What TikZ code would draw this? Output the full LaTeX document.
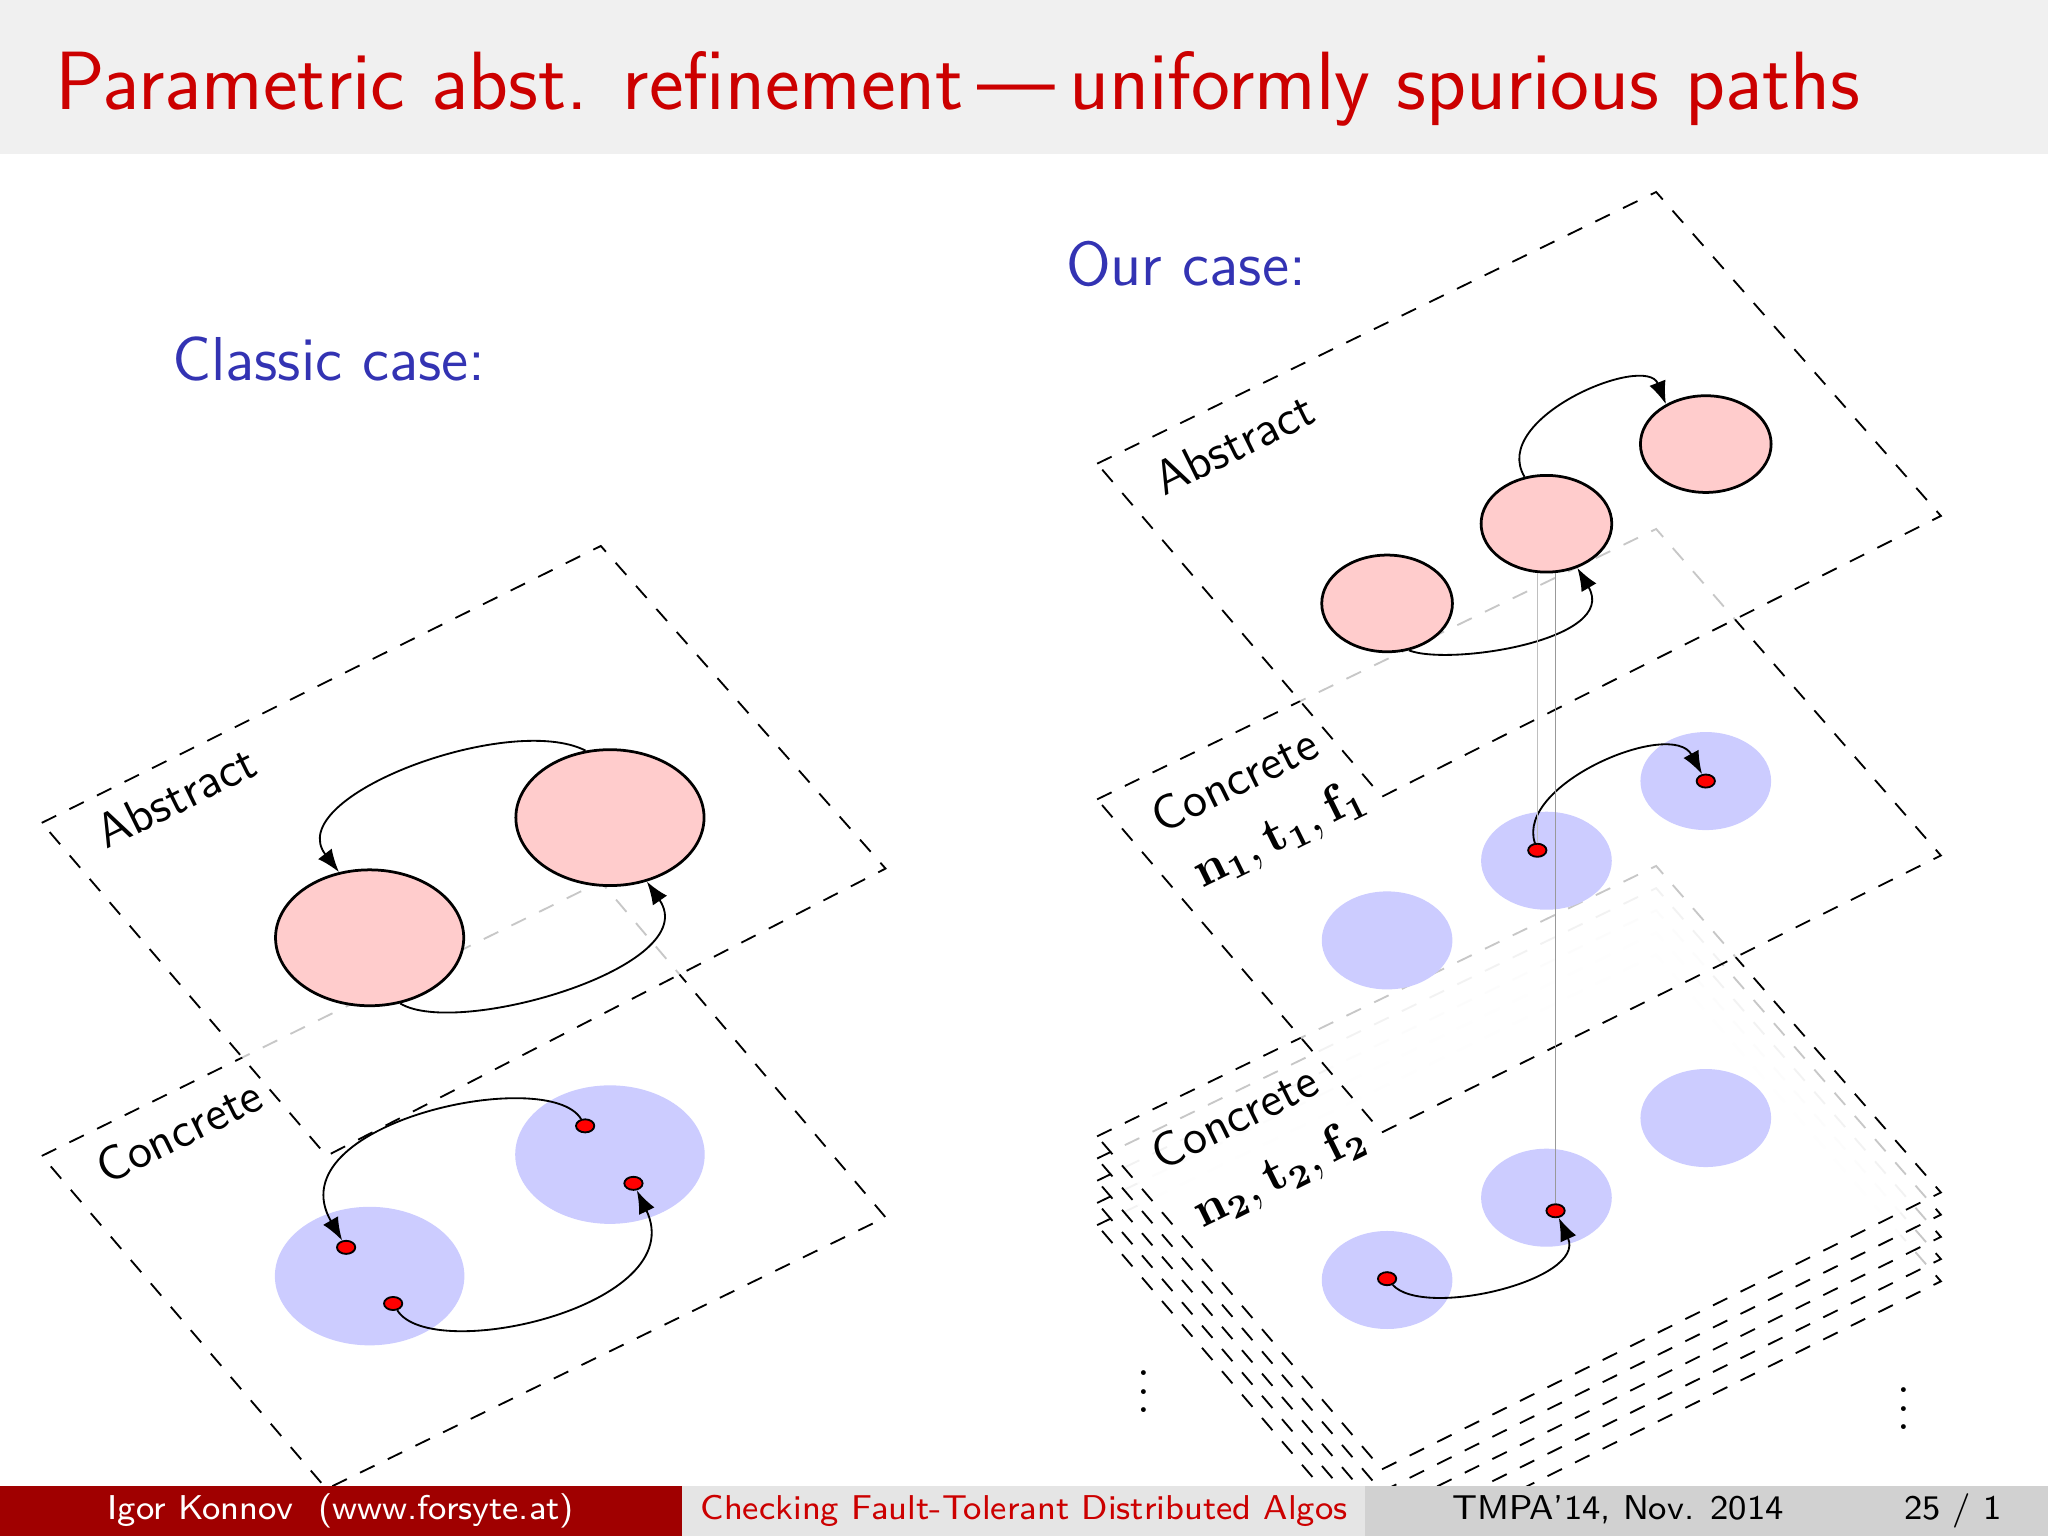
\documentclass[tikz,border=0pt]{standalone}
\usetikzlibrary{shapes.geometric,arrows.meta}
\definecolor{btitle}{RGB}{204,0,0}
\definecolor{bblue}{RGB}{51,51,179}
\definecolor{ared}{RGB}{255,204,204}
\definecolor{ablue}{RGB}{204,204,255}
\definecolor{fdark}{RGB}{160,0,0}
\tikzset{
 pl/.style={draw,dashed,dash pattern=on 3.5pt off 3.2pt,fill=white,fill opacity=0.78,draw opacity=1},
 redell/.style={ellipse,draw,fill=ared,semithick},
 blueell/.style={ellipse,fill=ablue},
 dot/.style={ellipse,draw,fill=red,minimum width=0.14cm,minimum height=0.1cm,inner sep=0pt},
 arr/.style={-{Latex[length=5pt]},thin},
 lbl/.style={font=\sffamily\fontsize{10.5}{12}\selectfont,rotate=26.3},
 foot/.style={font=\sffamily\fontsize{7.5}{9}\selectfont},
}
\begin{document}
\begin{tikzpicture}[x=0.01cm,y=-0.01cm]
\useasboundingbox (0,0) rectangle (1568,1176);
\fill[black!6] (0,0) rectangle (1568,118);
\node[anchor=west,text=btitle,font=\sffamily\fontsize{18}{21}\selectfont] (title) at (30,68) {Parametric abst. refinement\,---\,uniformly spurious paths};
\node[text=bblue,font=\sffamily\fontsize{13.5}{16}\selectfont] (cc) at (252,275) {Classic case:};
\node[text=bblue,font=\sffamily\fontsize{13.5}{16}\selectfont] (oc) at (908,202) {Our case:};
% classic
\draw[pl] (32,885) -- (460,675) -- (678,932) -- (250,1140) -- cycle;
\node[blueell,minimum width=1.45cm,minimum height=1.06cm] (cb1) at (283,977) {};
\node[blueell,minimum width=1.45cm,minimum height=1.06cm] (cb2) at (467,884) {};
\node[dot] (d1) at (265,955) {};
\node[dot] (d2) at (301,998) {};
\node[dot] (d3) at (448,862) {};
\node[dot] (d4) at (485,906) {};
\draw[arr] (d3) .. controls (420,815) and (210,860) .. (d1);
\draw[arr] (d2) .. controls (330,1045) and (530,1000) .. (d4);
\node[lbl] (cl1) at (137,866) {Concrete};
\draw[pl] (32,630) -- (460,418) -- (678,665) -- (250,885) -- cycle;
\node[redell,minimum width=1.44cm,minimum height=1.04cm] (ca1) at (283,718) {};
\node[redell,minimum width=1.44cm,minimum height=1.04cm] (ca2) at (467,626) {};
\draw[arr] (ca2.110) .. controls (390,545) and (215,610) .. (ca1.115);
\draw[arr] (ca1.-65) .. controls (350,795) and (540,740) .. (ca2.-60);
\node[lbl] (al1) at (135,610) {Abstract};
% our case: extra planes
\foreach \k in {4,3,2,1}{
 \draw[pl] (840,870+17*\k) -- (1268,663+17*\k) -- (1486,913+17*\k) -- (1058,1125+17*\k) -- cycle;
}
\node (vd1) at (876,1055) {$\vdots$};
\node (vd2) at (1458,1068) {$\vdots$};
% concrete 2
\draw[pl] (840,870) -- (1268,663) -- (1486,913) -- (1058,1125) -- cycle;
\node[blueell,minimum width=1cm,minimum height=0.75cm] (e1) at (1062,980) {};
\node[blueell,minimum width=1cm,minimum height=0.75cm] (e2) at (1184,917) {};
\node[blueell,minimum width=1cm,minimum height=0.75cm] (e3) at (1306,856) {};
\node[dot] (q1) at (1062,979) {};
\node[dot] (q2) at (1191,927) {};
\draw[arr] (q1) .. controls (1090,1010) and (1215,980) .. (q2);
\node[lbl] (c2l) at (945,855) {Concrete};
\node[lbl] (c2n) at (980,900) {$\mathbf{n_2,t_2,f_2}$};
% concrete 1
\draw[pl] (840,612) -- (1268,405) -- (1486,655) -- (1058,867) -- cycle;
\node[blueell,minimum width=1cm,minimum height=0.75cm] (f1) at (1062,720) {};
\node[blueell,minimum width=1cm,minimum height=0.75cm] (f2) at (1184,659) {};
\node[blueell,minimum width=1cm,minimum height=0.75cm] (f3) at (1306,598) {};
\node[dot] (p1) at (1177,651) {};
\node[dot] (p2) at (1306,598) {};
\draw[arr] (p1) .. controls (1160,600) and (1280,550) .. (p2);
\node[lbl] (c1l) at (945,597) {Concrete};
\node[lbl] (c1n) at (980,640) {$\mathbf{n_1,t_1,f_1}$};
% abstract
\draw[pl] (840,355) -- (1268,147) -- (1486,395) -- (1058,610) -- cycle;
\node[redell,minimum width=1cm,minimum height=0.74cm] (g1) at (1062,462) {};
\node[redell,minimum width=1cm,minimum height=0.74cm] (g2) at (1184,401) {};
\node[redell,minimum width=1cm,minimum height=0.74cm] (g3) at (1306,340) {};
\draw[arr] (g1.-65) .. controls (1110,510) and (1240,490) .. (g2.-55);
\draw[arr] (g2.115) .. controls (1140,320) and (1260,270) .. (g3.135);
\node[lbl] (al2) at (945,340) {Abstract};
\draw[black!25,very thin] (p1) -- (p1 |- g2.south);
\draw[black!40,very thin] (q2) -- (q2 |- g2.south);
% footer
\fill[fdark] (0,1138) rectangle (522,1176);
\fill[black!10] (522,1138) rectangle (1045,1176);
\fill[black!18] (1045,1138) rectangle (1568,1176);
\node[foot,text=white] (f1t) at (261,1157) {Igor Konnov\ \ (www.forsyte.at)};
\node[foot,text=btitle] (f2t) at (784,1157) {Checking Fault-Tolerant Distributed Algos};
\node[foot,anchor=east] (f3t) at (1545,1157) {TMPA'14, Nov. 2014\hspace{3.5em}25 / 1};
\end{tikzpicture}
\end{document}
